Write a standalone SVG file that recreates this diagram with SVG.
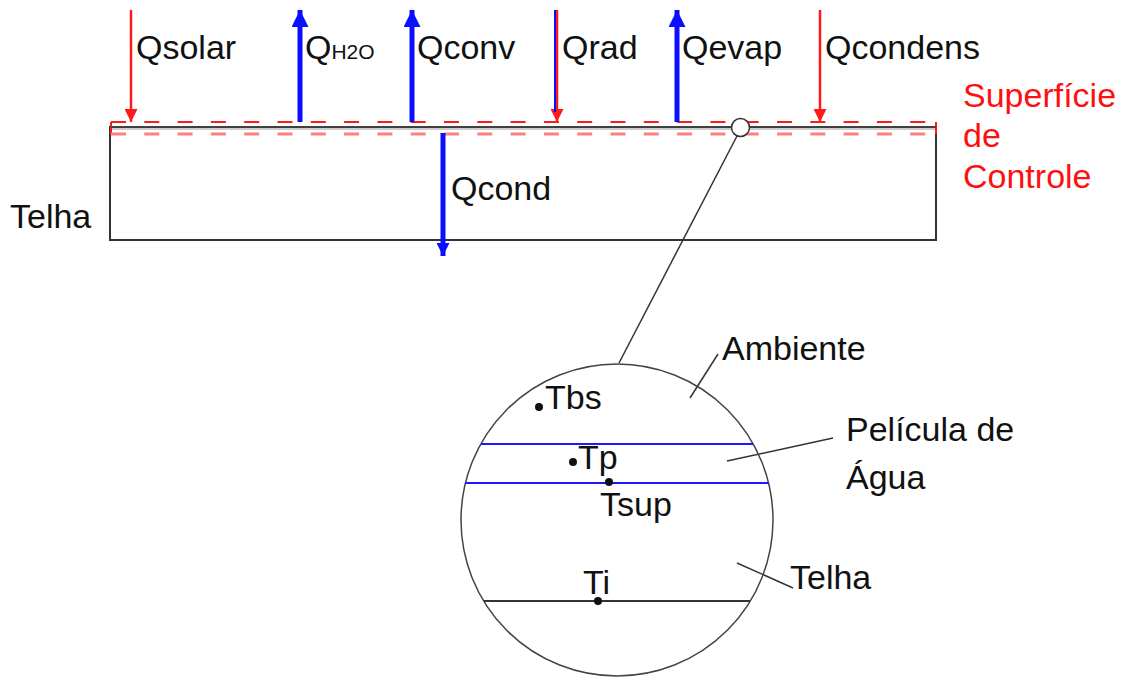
<svg xmlns="http://www.w3.org/2000/svg" width="1131" height="677" viewBox="0 0 1131 677">
<defs>
<style>
.t{font-family:"Liberation Sans",Arial,sans-serif;font-size:34px;fill:#111}
.r{fill:#ff1010}
.red{stroke:#ff1a1a;stroke-width:2.5;fill:none}
.blue{stroke:#0a10ff;stroke-width:5;fill:none}
.blk{stroke:#333;fill:none}
.lead{stroke:#333;stroke-width:1.5}
</style>
<marker id="hr" viewBox="0 0 10 10" refX="10" refY="5" markerWidth="13" markerHeight="13" markerUnits="userSpaceOnUse" orient="auto"><path d="M0,0L10,5L0,10z" fill="#ff1a1a"/></marker>
<marker id="hb" viewBox="0 0 10 10" refX="10" refY="5" markerWidth="17" markerHeight="17" markerUnits="userSpaceOnUse" orient="auto"><path d="M0,0L10,5L0,10z" fill="#0a10ff"/></marker>
<marker id="hb2" viewBox="0 0 10 10" refX="10" refY="5" markerWidth="13" markerHeight="13" markerUnits="userSpaceOnUse" orient="auto"><path d="M0,0L10,5L0,10z" fill="#0a10ff"/></marker>
</defs>
<rect width="1131" height="677" fill="#fff"/>

<g id="telha">
<rect x="110" y="127" width="826" height="113" class="blk" stroke-width="2"/>
<line x1="110" y1="129" x2="936" y2="129" stroke="#bbb" stroke-width="1.5"/>
<text class="t" x="10" y="228">Telha</text>
</g>

<g id="superficie-controle">
<line x1="111" y1="122" x2="111" y2="135" stroke="#ff1a1a" stroke-width="2"/>
<line x1="936" y1="122" x2="936" y2="134" stroke="#ff1a1a" stroke-width="2"/>
<line x1="111" y1="122" x2="936" y2="122" stroke="#ff1a1a" stroke-width="2" stroke-dasharray="15 18.3"/>
<line x1="111" y1="134" x2="936" y2="134" stroke="#ff8080" stroke-width="3" stroke-dasharray="15 18.3"/>
<line x1="110" y1="127" x2="936" y2="127" stroke="#444" stroke-width="1.5"/>
<text class="t r" x="963" y="107">Superfície</text>
<text class="t r" x="963" y="147">de</text>
<text class="t r" x="963" y="188">Controle</text>
</g>

<g id="connectors">
<line x1="131" y1="10" x2="131" y2="122" class="red" marker-end="url(#hr)"/>
<line x1="300" y1="122" x2="300" y2="10" class="blue" marker-end="url(#hb)"/>
<line x1="412" y1="122" x2="412" y2="10" class="blue" marker-end="url(#hb)"/>
<line x1="557" y1="10" x2="557" y2="122" class="red" stroke-width="3" marker-end="url(#hr)"/>
<line x1="555" y1="10" x2="555" y2="112" stroke="#0a10ff" stroke-width="2"/>
<line x1="677" y1="122" x2="677" y2="10" class="blue" stroke-width="4" marker-end="url(#hb)"/>
<line x1="820" y1="10" x2="820" y2="122" class="red" marker-end="url(#hr)"/>
<line x1="443" y1="133" x2="443" y2="256" class="blue" stroke-width="3" marker-end="url(#hb2)"/>
<line x1="737" y1="136" x2="619" y2="363" class="lead"/>
<line x1="718" y1="354" x2="690" y2="398" class="lead"/>
<line x1="833" y1="438" x2="727" y2="461" class="lead"/>
<line x1="737" y1="563" x2="793" y2="588" class="lead"/>
</g>

<g id="labels-fluxos">
<text class="t" x="136" y="59">Qsolar</text>
<text class="t" x="305" y="59">Q<tspan font-size="21">H2O</tspan></text>
<text class="t" x="417" y="59">Qconv</text>
<text class="t" x="562" y="59">Qrad</text>
<text class="t" x="682" y="59">Qevap</text>
<text class="t" x="825" y="59">Qcondens</text>
<text class="t" x="451" y="200">Qcond</text>
</g>

<g id="detalhe-ponto">
<circle cx="740.5" cy="127.5" r="9" fill="#fff" stroke="#333" stroke-width="1.5"/>
</g>

<g id="detalhe-ampliado">
<circle cx="617" cy="520" r="156" fill="none" stroke="#444" stroke-width="1.5"/>
<line x1="481" y1="444" x2="753" y2="444" stroke="#1a1aff" stroke-width="2"/>
<line x1="465" y1="483" x2="769" y2="483" stroke="#1a1aff" stroke-width="2"/>
<line x1="484" y1="601" x2="750" y2="601" stroke="#333" stroke-width="2"/>
<circle cx="539" cy="407" r="4" fill="#111"/>
<circle cx="573" cy="462" r="4" fill="#111"/>
<circle cx="609" cy="482" r="4" fill="#111"/>
<circle cx="598" cy="601" r="4" fill="#111"/>
<text class="t" x="545" y="409">Tbs</text>
<text class="t" x="578" y="469">Tp</text>
<text class="t" x="600" y="516">Tsup</text>
<text class="t" x="583" y="594">Ti</text>
</g>

<g id="rotulos-detalhe">
<text class="t" x="722" y="360">Ambiente</text>
<text class="t" x="846" y="441">Película de</text>
<text class="t" x="846" y="489">Água</text>
<text class="t" x="790" y="589">Telha</text>
</g>
</svg>
